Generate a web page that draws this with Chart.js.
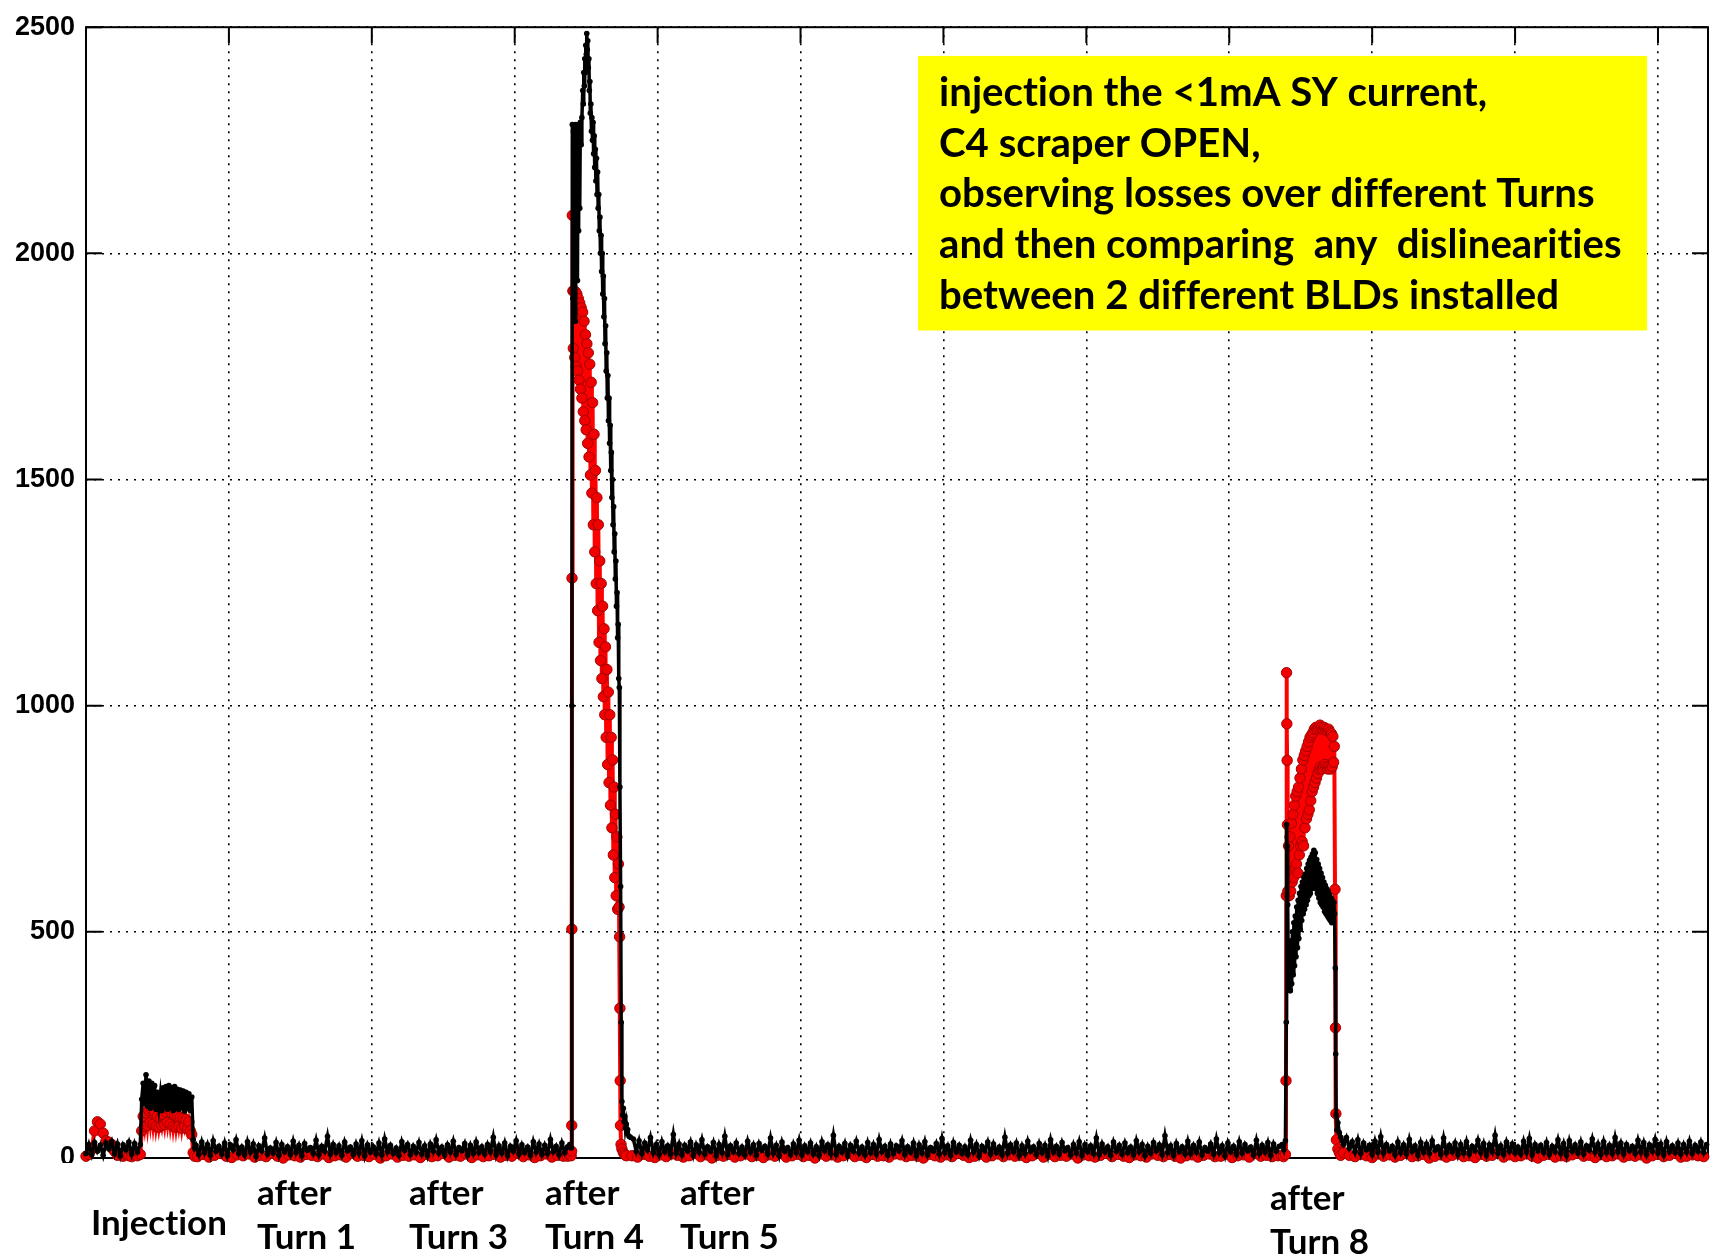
<!DOCTYPE html>
<html>
<head>
<meta charset="utf-8">
<script src="https://cdn.jsdelivr.net/npm/chart.js@4.4.1/dist/chart.umd.min.js"></script>
<style>
  html, body { margin: 0; padding: 0; background: #fff; }
  #wrap { width: 1718px; height: 1257px; position: relative; }
  canvas { display: block; }
</style>
</head>
<body>
<div id="wrap"><canvas id="c" width="1718" height="1257"></canvas></div>
<script>
// ---------------- DATA ----------------
// y axis
const yMin = 0, yMax = 2500, yStep = 500;
// x axis (sample index units, gridlines every 100)
const xMin = 0, xMax = 1135, xStep = 100;

// ---- Black BLD ----
// x = 0..36 step 2
const blackPreInj = [10, 30, 8, 34, 15, 28, 6, 33, 20, 36, 10, 31, 5, 29, 18, 35, 9, 32, 14];
// x = 38..76 step 1 (injection)
const blackInj = [30, 130, 165, 120, 184, 115, 170, 110, 165, 118, 160, 108, 145, 112, 140, 105, 155, 115, 158, 108,
                  160, 112, 155, 105, 158, 110, 152, 108, 150, 112, 148, 104, 145, 110, 142, 105, 135, 40, 22];
// x = 77..337 step 2
const blackBaseA = [
  28, 8, 35, 12, 30, 6, 38, 15, 26, 9, 33, 5, 29, 18, 40, 10, 24, 7, 36, 13,
  31, 4, 27, 16, 44, 9, 22, 11, 34, 6, 30, 14, 25, 8, 37, 12, 28, 5, 32, 17,
  23, 10, 39, 7, 26, 15, 48, 9, 30, 12, 27, 6, 35, 16, 24, 8, 31, 11, 38, 5,
  29, 13, 25, 9, 33, 7, 42, 14, 28, 10, 22, 6, 36, 17, 30, 8, 26, 12, 34, 9,
  27, 5, 31, 15, 40, 11, 24, 7, 29, 13, 37, 8, 23, 16, 32, 6, 28, 10, 35, 12,
  25, 9, 30, 14, 46, 7, 27, 11, 33, 5, 26, 15, 38, 9, 29, 12, 24, 6, 36, 13,
  31, 8, 28, 10, 41, 14, 26, 7, 33, 12, 25];
// after Turn 4 peak: [x, value]
const blackTurn4 = [
  [338.5, 30], [339.5, 22], [340.0, 1000], [340.3, 2285], [340.7, 1900], [341.1, 2270], [341.5, 1980], [341.9, 2280],
  [342.3, 1850], [342.7, 2285], [343.1, 2000], [343.5, 2275], [343.9, 1940], [344.3, 2280], [344.7, 2050], [345.1, 2285],
  [345.5, 2100], [345.9, 2290], [346.4, 2240], [347.0, 2300], [347.6, 2360], [348.0, 2330], [348.3, 2400], [348.7, 2370],
  [349.0, 2430], [349.4, 2400], [349.7, 2460], [350.1, 2440], [350.4, 2486], [350.8, 2450], [351.1, 2470], [351.5, 2410],
  [351.9, 2430], [352.2, 2360], [352.6, 2380], [352.9, 2310], [353.3, 2330], [353.7, 2270],
  [354.0, 2300], [354.4, 2250], [354.8, 2290], [355.2, 2220], [355.6, 2260], [356.0, 2190], [356.4, 2230], [356.8, 2160],
  [357.2, 2210], [357.6, 2130], [358.0, 2180], [358.4, 2100], [358.8, 2130], [359.2, 2050], [359.6, 2080], [360.0, 2000],
  [360.4, 2040], [360.8, 1960], [361.2, 2000], [361.6, 1910], [362.0, 1950], [362.4, 1860], [362.8, 1900], [363.2, 1800],
  [363.6, 1840], [364.0, 1740], [364.4, 1780], [364.8, 1680], [365.2, 1730], [365.6, 1630], [366.0, 1680], [366.4, 1580],
  [366.8, 1620], [367.2, 1520], [367.6, 1560], [368.0, 1460], [368.4, 1500], [368.8, 1400], [369.2, 1440], [369.6, 1340],
  [370.0, 1380], [370.4, 1280], [370.8, 1320], [371.2, 1220], [371.6, 1250], [372.0, 1150], [372.4, 1180], [372.8, 1060],
  [373.2, 1040], [373.6, 820], [374.1, 600], [374.5, 300], [375.0, 125], [375.5, 95], [376.0, 110], [376.5, 80],
  [377.0, 92], [377.5, 66], [378.0, 75], [378.5, 55], [379.0, 63], [380.0, 48], [381.0, 46]];
// x = 383..835 step 2
const blackBaseB = [
  42, 15, 38, 10, 33, 18, 45, 12, 30, 8, 36, 14, 27, 9, 52, 11, 31, 7, 28, 16,
  35, 6, 29, 13, 40, 9, 25, 15, 34, 5, 30, 12, 48, 8, 27, 14, 33, 10, 24, 7,
  37, 13, 29, 6, 32, 17, 26, 9, 44, 11, 28, 5, 35, 15, 23, 8, 31, 12, 39, 7,
  27, 14, 33, 9, 25, 6, 36, 16, 29, 10, 50, 8, 26, 13, 32, 5, 28, 15, 37, 11,
  24, 7, 34, 12, 30, 9, 41, 14, 26, 6, 31, 10, 27, 16, 38, 8, 25, 13, 33, 5,
  29, 11, 36, 7, 23, 15, 32, 9, 43, 12, 27, 6, 34, 14, 28, 10, 25, 8, 39, 13,
  30, 5, 26, 16, 35, 9, 31, 12, 24, 7, 46, 11, 29, 14, 33, 6, 27, 10, 37, 15,
  25, 8, 32, 12, 28, 5, 40, 13, 26, 9, 34, 16, 23, 7, 30, 11, 36, 6, 29, 14,
  27, 10, 44, 8, 31, 13, 25, 6, 35, 15, 28, 9, 33, 12, 24, 7, 38, 14, 30, 5,
  26, 11, 34, 16, 29, 8, 49, 12, 27, 6, 32, 14, 25, 9, 37, 10, 28, 13, 35, 7,
  23, 15, 31, 9, 42, 12, 27, 5, 33, 14, 26, 8, 36, 11, 30, 16, 24, 7, 39, 10,
  28, 13, 34, 6, 31, 15, 26];
// after Turn 8 peak: [x, value]
const blackTurn8 = [
  [837, 30], [838.2, 18], [839.3, 38], [839.9, 300], [840.1, 737], [840.5, 690], [840.9, 560], [841.3, 420],
  [841.7, 375], [842.2, 460], [842.7, 370], [843.2, 480], [843.7, 385], [844.2, 500], [844.7, 405], [845.2, 520],
  [845.7, 425], [846.2, 535], [846.7, 445], [847.2, 555], [847.7, 465], [848.2, 570], [848.7, 485], [849.2, 585],
  [849.7, 505], [850.2, 600], [850.7, 525], [851.2, 610], [851.7, 540], [852.2, 620], [852.7, 550], [853.2, 628],
  [853.7, 560], [854.2, 640], [854.7, 570], [855.2, 650], [855.7, 580], [856.2, 658], [856.7, 585], [857.2, 665],
  [857.7, 595], [858.2, 672], [858.7, 600], [859.2, 680], [859.7, 605], [860.2, 675], [860.7, 595], [861.2, 660],
  [861.7, 585], [862.2, 650], [862.7, 575], [863.2, 640], [863.7, 565], [864.2, 630], [864.7, 560], [865.2, 620],
  [865.7, 555], [866.2, 610], [866.7, 545], [867.2, 603], [867.7, 540], [868.2, 595], [868.7, 535], [869.2, 590],
  [869.7, 530], [870.2, 582], [870.7, 525], [871.2, 575], [871.7, 520], [872.2, 570], [872.7, 525], [873.2, 565],
  [873.7, 540], [874.2, 420], [874.5, 230], [874.8, 95], [875.3, 62], [876.0, 78], [877.0, 56], [878.0, 46],
  [879.0, 38], [880.0, 30]];
// x = 882..1134 step 2
const blackBaseC = [
  45, 22, 36, 14, 40, 10, 33, 18, 28, 8, 37, 13, 47, 11, 30, 16, 26, 7, 35, 12,
  29, 9, 41, 15, 27, 6, 34, 13, 31, 10, 38, 17, 25, 8, 44, 12, 28, 14, 33, 7,
  30, 11, 36, 9, 26, 16, 39, 12, 32, 6, 29, 14, 50, 10, 27, 8, 35, 15, 31, 11,
  24, 9, 37, 13, 43, 7, 30, 16, 28, 12, 34, 8, 26, 14, 40, 10, 32, 6, 38, 15,
  29, 11, 35, 9, 27, 17, 42, 13, 31, 8, 36, 12, 28, 10, 45, 14, 33, 9, 30, 16,
  26, 10, 39, 13, 34, 8, 29, 15, 41, 11, 31, 7, 36, 14, 27, 12, 33, 9, 30, 13,
  37, 10, 28, 15, 35, 12, 30];

// ---- Red BLD ----
// x = 0..36 step 2
const redPreInj = [4, 8, 20, 60, 80, 75, 55, 38, 35, 30, 15, 6, 10, 4, 8, 5, 3, 7, 5];
// x = 38..76 step 1
const redInj = [8, 60, 92, 70, 100, 72, 105, 78, 108, 75, 102, 70, 92, 68, 88, 72, 96, 74, 102, 78,
                106, 75, 100, 70, 95, 68, 92, 70, 90, 66, 88, 70, 85, 64, 80, 60, 52, 12, 4];
// x = 78..334 step 4
const redBaseA = [
  3, 8, 2, 6, 10, 4, 1, 7, 5, 9, 2, 6, 3, 11, 4, 0, 7, 5, 2, 8,
  6, 3, 9, 1, 5, 7, 2, 10, 4, 6, 3, 8, 0, 5, 9, 2, 6, 4, 7, 1,
  8, 3, 5, 10, 2, 6, 4, 9, 1, 7, 3, 5, 8, 2, 6, 4, 11, 3, 7, 1,
  5, 9, 2, 6, 4];
const redTurn4 = [
  [337, 4], [338.5, 7], [339.5, 5], [339.8, 15], [339.9, 72], [340.0, 506], [340.1, 1282], [340.3, 2084], [340.7, 1917],
  [341.0, 1790], [341.5, 1917], [342.0, 1770], [342.5, 1915], [343.0, 1750], [343.5, 1910], [344.0, 1740], [344.5, 1900],
  [345.0, 1720], [345.5, 1890], [346.0, 1700], [346.5, 1880], [347.0, 1680], [347.5, 1870], [348.0, 1650], [348.5, 1850],
  [349.0, 1630], [349.5, 1820], [350.0, 1610], [350.5, 1800], [351.0, 1580], [351.5, 1780], [352.0, 1550], [352.5, 1755],
  [353.0, 1510], [353.5, 1715], [354.0, 1470], [354.5, 1670], [355.0, 1400], [355.5, 1600], [356.0, 1340], [356.5, 1520],
  [357.0, 1270], [357.5, 1460], [358.0, 1210], [358.5, 1400], [359.0, 1140], [359.5, 1320], [360.0, 1100], [360.5, 1270],
  [361.0, 1060], [361.5, 1220], [362.0, 1020], [362.5, 1170], [363.0, 980], [363.5, 1130], [364.0, 930], [364.5, 1080],
  [365.0, 870], [365.5, 1030], [366.0, 830], [366.5, 980], [367.0, 780], [367.5, 930], [368.0, 730], [368.5, 880],
  [369.0, 670], [369.5, 820], [370.0, 620], [370.5, 760], [371.0, 580], [371.5, 710], [372.0, 550], [372.5, 650],
  [373.0, 555], [373.4, 489], [373.6, 331], [373.8, 171], [374.0, 72], [374.4, 30], [375.0, 20], [376.0, 12],
  [377.0, 8], [378.0, 5]];
// x = 382..834 step 4
const redBaseB = [
  5, 2, 8, 4, 1, 7, 3, 9, 6, 2, 5, 10, 3, 7, 0, 6, 4, 8, 2, 5,
  9, 3, 6, 1, 7, 4, 11, 2, 5, 8, 3, 6, 0, 9, 4, 7, 2, 5, 10, 3,
  6, 1, 8, 4, 5, 2, 9, 7, 3, 6, 4, 0, 8, 5, 2, 7, 3, 10, 6, 1,
  4, 8, 2, 5, 9, 3, 7, 4, 6, 1, 5, 11, 2, 8, 3, 6, 4, 9, 0, 7,
  5, 2, 6, 10, 3, 8, 4, 1, 7, 5, 2, 9, 6, 3, 8, 4, 0, 5, 7, 2,
  6, 9, 3, 4, 8, 1, 5, 7, 2, 10, 4, 6, 3, 5];
const redTurn8 = [
  [836.5, 6], [838, 3], [839.3, 8], [839.7, 171], [839.9, 580], [840.1, 1073], [840.3, 960], [840.5, 879], [840.7, 737],
  [841.0, 590], [841.5, 690], [842.0, 580], [842.5, 710], [843.0, 590], [843.5, 740], [844.0, 610], [844.5, 760],
  [845.0, 620], [845.5, 780], [846.0, 640], [846.5, 800], [847.0, 650], [847.5, 810], [848.0, 630], [848.5, 820],
  [849.0, 670], [849.5, 840], [850.0, 690], [850.5, 860], [851.0, 700], [851.5, 880], [852.0, 690], [852.5, 890],
  [853.0, 730], [853.5, 900], [854.0, 750], [854.5, 910], [855.0, 760], [855.5, 920], [856.0, 770], [856.5, 930],
  [857.0, 790], [857.5, 935], [858.0, 810], [858.5, 940], [859.0, 820], [859.5, 948], [860.0, 830], [860.5, 952],
  [861.0, 840], [861.5, 948], [862.0, 850], [862.5, 952], [863.0, 860], [863.5, 957], [864.0, 865], [864.5, 952],
  [865.0, 860], [865.5, 948], [866.0, 865], [866.5, 952], [867.0, 870], [867.5, 948], [868.0, 865], [868.5, 944],
  [869.0, 860], [869.5, 948], [870.0, 865], [870.5, 942], [871.0, 860], [871.5, 938], [872.0, 865], [872.5, 932],
  [873.0, 875], [873.5, 910], [874.0, 594], [874.3, 288], [874.6, 98], [875.0, 40], [876.0, 20], [877.0, 12],
  [878.0, 6]];
// x = 880..1132 step 4
const redBaseC = [
  12, 6, 3, 8, 5, 1, 9, 4, 7, 2, 6, 10, 3, 5, 8, 0, 4, 7, 2, 6,
  9, 3, 5, 1, 8, 4, 6, 11, 2, 7, 3, 5, 9, 4, 0, 6, 8, 2, 5, 3,
  7, 10, 4, 6, 1, 8, 3, 5, 9, 2, 6, 4, 7, 0, 5, 8, 3, 6, 10, 2,
  4, 7, 5, 3];

// ---- texts ----
const noteLines = [
  "injection the <1mA SY current,",
  "C4 scraper OPEN,",
  "observing losses over different Turns",
  "and then comparing  any  dislinearities",
  "between 2 different BLDs installed"
];
const turnLabels = [["Injection"], ["after", "Turn 1"], ["after", "Turn 3"], ["after", "Turn 4"], ["after", "Turn 5"], ["after", "Turn 8"]];
const turnLabelX = [3.5, 119.7, 226, 321.2, 415.6, 828.5];

// ---------------- build ----------------
function seg(start, step, vals) { return vals.map((v, i) => ({ x: start + i * step, y: v })); }
function pts(arr) { return arr.map(([x, y]) => ({ x, y })); }

const blackData = [].concat(
  seg(0, 2, blackPreInj), seg(38, 1, blackInj), seg(77, 2, blackBaseA), pts(blackTurn4),
  seg(383, 2, blackBaseB), pts(blackTurn8), seg(882, 2, blackBaseC));
const redData = [].concat(
  seg(0, 2, redPreInj), seg(38, 1, redInj), seg(78, 4, redBaseA), pts(redTurn4),
  seg(382, 4, redBaseB), pts(redTurn8), seg(880, 4, redBaseC));

const LABEL_FONT = '"Lato", "Open Sans", sans-serif';
const noteBox = { x0: 582.2, x1: 1092.3, yTop: 2436.5, yBottom: 1829.5 };

function setTextCtx(ctx) {
  try { ctx.textRendering = 'optimizeSpeed'; } catch (e) {}
  try { ctx.letterSpacing = '0.01px'; } catch (e) {}
}
function fitFont(ctx, text, target, base) {
  ctx.font = `bold ${base}px ${LABEL_FONT}`;
  const w = ctx.measureText(text).width;
  return base * target / w;
}

const decor = {
  id: 'decor',
  beforeDatasetsDraw(chart) {
    const { ctx, chartArea: a, scales: { x, y } } = chart;
    const TICK = 16;
    ctx.save();
    ctx.strokeStyle = '#000';
    ctx.lineWidth = 2;
    ctx.strokeRect(a.left, a.top, a.right - a.left, a.bottom - a.top);
    ctx.beginPath();
    y.ticks.forEach(t => {
      const py = y.getPixelForValue(t.value);
      ctx.moveTo(a.left, py); ctx.lineTo(a.left + TICK, py);
      ctx.moveTo(a.right, py); ctx.lineTo(a.right - TICK, py);
    });
    x.ticks.forEach(t => {
      const px = x.getPixelForValue(t.value);
      ctx.moveTo(px, a.top); ctx.lineTo(px, a.top + TICK);
      ctx.moveTo(px, a.bottom); ctx.lineTo(px, a.bottom - TICK);
    });
    ctx.stroke();
    ctx.restore();
  },
  afterDraw(chart) {
    const { ctx, chartArea: a, scales: { x, y } } = chart;
    ctx.save();
    setTextCtx(ctx);
    // partially hidden "0" label as in the source slide
    const y0 = y.getPixelForValue(0);
    ctx.fillStyle = '#fff';
    ctx.fillRect(0, y0 + 5, a.left - 6, 16);

    // yellow note
    const bx0 = x.getPixelForValue(noteBox.x0), bx1 = x.getPixelForValue(noteBox.x1);
    const by0 = y.getPixelForValue(noteBox.yTop), by1 = y.getPixelForValue(noteBox.yBottom);
    ctx.fillStyle = '#ffff00';
    ctx.fillRect(bx0, by0, bx1 - bx0, by1 - by0);
    const fs = fitFont(ctx, noteLines[3], 683, 32);
    ctx.font = `bold ${fs}px ${LABEL_FONT}`;
    ctx.fillStyle = '#000';
    ctx.textAlign = 'left';
    ctx.textBaseline = 'middle';
    noteLines.forEach((t, i) => ctx.fillText(t, bx0 + 21, by0 + 37 + i * 50.7));

    // labels under the axis
    const ls = fitFont(ctx, 'Injection', 136, 32);
    ctx.font = `bold ${ls}px ${LABEL_FONT}`;
    turnLabels.forEach((lines, i) => {
      const px = x.getPixelForValue(turnLabelX[i]);
      if (lines.length === 1) {
        ctx.fillText(lines[0], px, y0 + 66);
      } else {
        const extra = (i === turnLabels.length - 1) ? 5 : 0;
        ctx.fillText(lines[0], px, y0 + 36 + extra);
        ctx.fillText(lines[1], px, y0 + 80 + extra);
      }
    });
    ctx.restore();
  }
};

function build() {
  new Chart(document.getElementById('c'), {
    type: 'line',
    data: {
      datasets: [
        {
          label: 'BLD black', data: blackData,
          borderColor: '#000', borderWidth: 3.5, backgroundColor: '#000',
          pointRadius: 2.8, pointBackgroundColor: '#000', pointBorderWidth: 0,
          tension: 0, fill: false, clip: false
        },
        {
          label: 'BLD red', data: redData,
          borderColor: '#ff0000', borderWidth: 4, backgroundColor: '#ff0000',
          pointRadius: 5.2, pointBackgroundColor: '#f00000', pointBorderColor: '#a00000', pointBorderWidth: 1,
          tension: 0, fill: false, clip: false
        }
      ]
    },
    options: {
      responsive: false,
      devicePixelRatio: 1,
      animation: false,
      layout: { padding: { top: 17, right: 10, bottom: 99, left: 0 } },
      plugins: { legend: { display: false }, tooltip: { enabled: false } },
      scales: {
        x: {
          type: 'linear', min: xMin, max: xMax,
          afterFit(s) { s.height = 0; },
          ticks: { display: false, stepSize: xStep, includeBounds: false },
          grid: { color: '#000', lineWidth: 1.6, drawTicks: false },
          border: { display: false, dash: [2, 6] }
        },
        y: {
          min: yMin, max: yMax,
          afterFit(s) { s.width = 86; },
          ticks: {
            stepSize: yStep, color: '#000', padding: 11,
            callback: (v) => String(v),
            font: { family: '"Liberation Sans", Arial, sans-serif', size: 27, weight: 'bold' }
          },
          grid: { color: '#000', lineWidth: 1.6, drawTicks: false },
          border: { display: false, dash: [2, 6] }
        }
      }
    },
    plugins: [decor]
  });
}

const loads = [
  document.fonts.load('bold 32px "Lato"'),
  document.fonts.load('bold 26px "Liberation Sans"')
];
Promise.race([Promise.all(loads), new Promise(r => setTimeout(r, 800))]).then(build, build);
</script>
</body>
</html>
